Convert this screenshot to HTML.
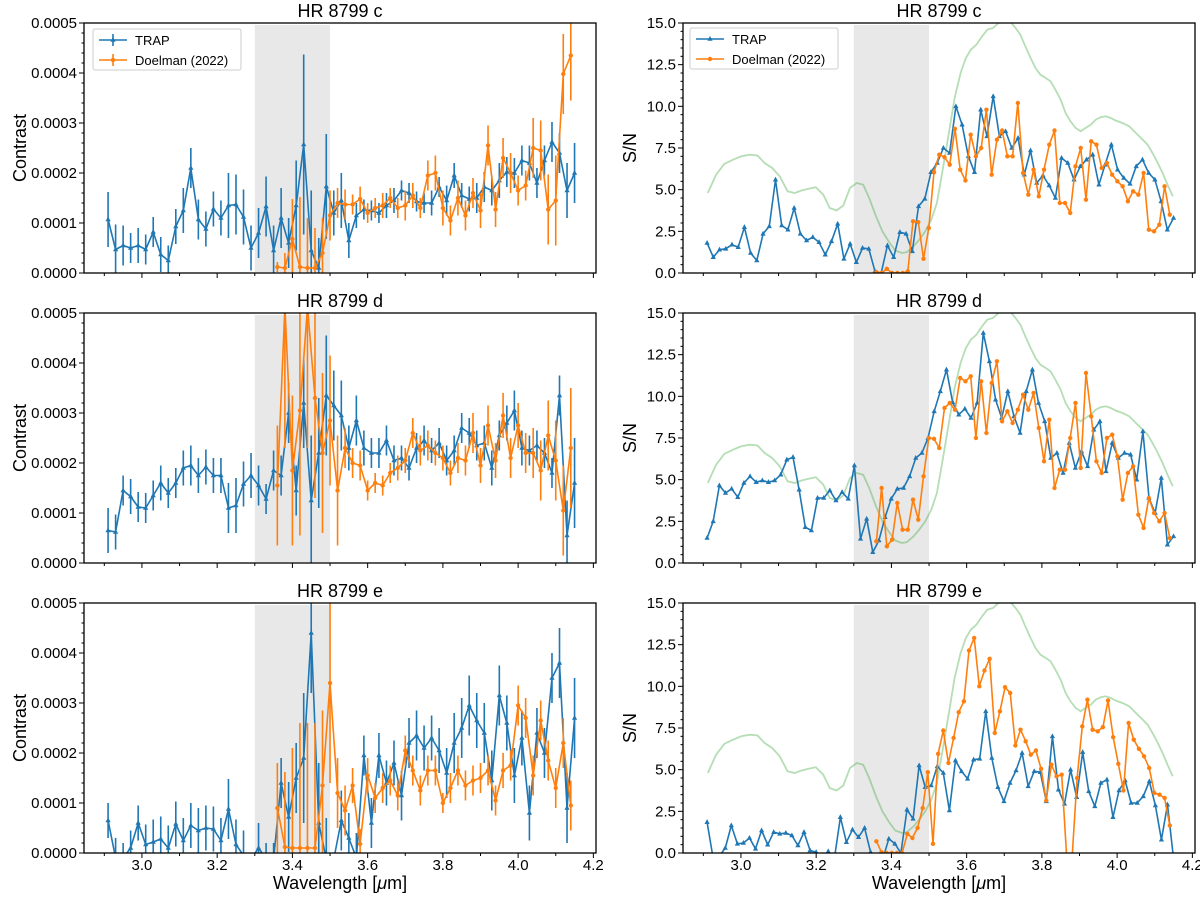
<!DOCTYPE html>
<html><head><meta charset="utf-8"><style>
html,body{margin:0;padding:0;background:#fff;width:1200px;height:900px;overflow:hidden;}
svg{display:block;}
svg text{font-family:"Liberation Sans","DejaVu Sans",sans-serif;fill:#000;}
</style></head><body>
<svg id="fig" width="1200" height="900" viewBox="0 0 1200 900" xmlns="http://www.w3.org/2000/svg" overflow="hidden"></svg>
<script>
// ---------- data ----------
const trapRange = [2.91, 4.15];
const doelRange = [3.36, 4.14];
const conTicks = ["0.0000","0.0001","0.0002","0.0003","0.0004","0.0005"];
const snTicks = ["0.0","2.5","5.0","7.5","10.0","12.5","15.0"];
const xTicks = ["3.0","3.2","3.4","3.6","3.8","4.0","4.2"];
const titles = ["HR 8799 c","HR 8799 d","HR 8799 e"];

// contrast (units of 1e-4)
const trapConC = [1.07,0.47,0.55,0.50,0.55,0.47,0.82,0.37,0.25,0.93,1.25,2.10,1.07,0.88,1.28,1.10,1.35,1.37,1.12,0.50,0.80,1.33,0.45,1.10,0.60,1.35,2.57,0.45,0.10,1.73,1.20,1.45,0.65,1.15,1.27,1.25,1.20,1.35,1.45,1.65,1.60,1.43,1.40,1.40,1.72,1.45,1.95,1.55,1.48,1.50,1.72,1.65,1.85,2.02,2.00,2.25,2.20,1.80,2.25,2.62,2.40,1.65,2.00];
const trapErrC = [0.55,0.5,0.4,0.3,0.35,0.3,0.3,0.35,0.3,0.35,0.45,0.4,0.4,0.35,0.35,0.35,0.65,0.6,0.55,0.45,0.5,0.6,0.5,0.6,0.5,0.9,1.8,1.2,0.6,1.05,0.45,0.55,0.35,0.25,0.2,0.2,0.2,0.25,0.25,0.2,0.2,0.2,0.2,0.25,0.2,0.3,0.25,0.25,0.25,0.3,0.3,0.3,0.35,0.3,0.3,0.3,0.35,0.3,0.3,0.4,0.4,0.55,0.6];
const doelConC = [0.12,0.10,0.68,0.12,0.10,0.10,0.40,1.15,1.40,1.37,1.37,1.48,1.20,1.30,1.35,1.50,1.30,1.35,1.55,1.30,1.95,2.00,1.30,1.05,1.50,1.15,1.60,1.25,2.55,1.27,2.30,2.00,1.65,1.75,2.50,2.45,1.27,1.45,3.98,4.35];
const doelErrC = [0.1,0.3,0.8,1.4,1.0,0.8,0.7,0.5,0.3,0.3,0.2,0.25,0.2,0.2,0.25,0.2,0.2,0.3,0.25,0.2,0.3,0.35,0.35,0.3,0.35,0.3,0.3,0.35,0.4,0.35,0.4,0.4,0.3,0.3,0.6,0.6,0.7,0.9,0.8,0.9];

const trapConD = [0.65,0.62,1.45,1.33,1.12,1.10,1.35,1.60,1.40,1.60,1.90,1.95,1.75,1.92,1.75,1.75,1.10,1.15,1.58,1.75,1.55,1.28,1.85,1.75,3.00,1.45,3.20,1.25,2.20,3.35,3.15,2.95,2.30,2.85,2.30,2.20,2.20,2.45,2.05,2.10,1.90,2.30,2.45,2.25,2.40,2.05,2.25,2.70,2.60,2.35,2.40,1.90,2.55,2.80,3.05,2.30,2.25,2.35,2.20,1.80,3.35,0.55,1.60];
const trapErrD = [0.45,0.35,0.3,0.35,0.3,0.3,0.3,0.35,0.3,0.3,0.35,0.4,0.35,0.35,0.35,0.35,0.5,0.55,0.45,0.45,0.4,0.3,0.4,0.4,0.6,0.5,0.9,1.3,1.1,1.2,0.7,0.7,0.45,0.5,0.35,0.3,0.3,0.3,0.3,0.25,0.25,0.3,0.3,0.25,0.3,0.3,0.3,0.3,0.3,0.3,0.35,0.35,0.3,0.35,0.4,0.35,0.3,0.3,0.3,0.3,0.4,0.7,0.9];
const doelConD = [1.55,5.8,1.85,3.05,5.8,3.30,2.20,2.85,1.45,2.30,2.00,1.95,1.45,1.60,1.55,1.80,1.90,2.05,2.60,2.25,2.35,2.20,2.10,1.80,2.10,2.05,2.60,1.95,2.75,2.05,2.95,2.10,2.75,2.20,2.20,1.85,2.55,2.05,1.05,2.30];
const doelErrD = [1.2,3.5,1.5,2.5,3.5,2.0,1.6,1.3,1.1,0.4,0.3,0.3,0.2,0.2,0.2,0.2,0.25,0.25,0.3,0.3,0.3,0.25,0.25,0.25,0.3,0.3,0.4,0.35,0.4,0.35,0.45,0.4,0.45,0.4,0.5,0.6,0.7,0.8,0.9,1.2];

const trapConE = [0.65,-0.1,-0.1,0.10,0.60,0.17,0.22,0.28,0.10,0.58,0.25,0.55,0.45,0.50,0.48,0.25,0.88,0.17,-0.05,-0.5,0.10,-0.3,-0.3,1.40,0.72,1.50,1.90,4.40,0.60,-0.5,-1.0,0.65,0.30,-0.1,1.95,0.60,1.95,1.40,1.80,1.15,2.20,2.35,2.10,2.30,2.05,1.60,2.20,2.50,2.95,2.65,2.40,1.45,3.15,2.60,1.55,2.30,0.80,2.40,2.00,3.50,3.80,0.90,2.70];
const trapErrE = [0.35,0.4,0.3,0.35,0.35,0.4,0.45,0.45,0.45,0.45,0.45,0.45,0.45,0.45,0.45,0.45,0.6,0.5,0.5,0.5,0.5,0.5,0.5,0.5,0.7,0.7,1.3,1.2,1.2,1.2,0.8,0.6,0.5,0.5,0.4,0.5,0.45,0.45,0.45,0.5,0.5,0.5,0.45,0.45,0.45,0.5,0.6,0.6,0.6,0.55,0.6,0.6,0.6,0.55,0.55,0.55,0.55,0.5,0.5,0.5,0.7,0.7,0.8];
const doelConE = [0.90,0.12,0.10,0.10,0.10,0.10,1.35,3.40,1.20,0.85,1.35,0.18,1.55,1.10,1.30,1.45,1.15,2.05,1.65,1.25,1.65,1.65,1.00,1.30,1.65,1.35,1.45,1.50,1.65,1.05,1.65,1.75,2.95,2.70,1.55,2.65,1.85,1.30,2.20,0.95];
const doelErrE = [0.9,1.5,2.0,2.5,2.5,2.5,1.5,2.0,0.7,0.5,0.35,0.3,0.35,0.3,0.3,0.3,0.3,0.3,0.3,0.3,0.3,0.3,0.2,0.3,0.3,0.3,0.3,0.3,0.3,0.3,0.35,0.3,0.4,0.4,0.4,0.4,0.4,0.4,0.5,0.5];

// S/N
const trapSnC = [1.8,0.95,1.4,1.45,1.7,1.55,2.75,1.2,0.75,2.35,2.8,5.6,2.85,2.6,3.9,2.35,1.95,2.15,1.85,1.1,1.9,2.95,0.85,1.75,0.65,1.5,1.45,0.1,0.0,1.65,0.95,2.45,2.35,1.3,4.0,4.45,6.05,6.6,7.5,7.2,10.0,8.9,7.0,6.05,9.8,8.2,10.6,8.2,8.5,7.5,8.1,5.9,7.35,5.4,5.85,5.25,4.5,6.9,6.6,5.6,6.4,6.8,7.1,5.3,6.5,7.7,6.2,5.7,5.35,6.4,6.8,6.0,5.6,4.3,2.6,3.3];
const doelSnC = [0.05,0.0,0.25,0.0,0.0,0.0,0.1,3.1,3.05,0.85,2.7,6.05,7.1,6.95,6.5,8.65,6.2,5.55,8.3,7.0,7.5,9.8,5.9,8.0,8.55,7.0,7.0,10.2,6.0,4.7,6.2,4.6,6.2,7.7,8.55,4.2,4.2,3.6,6.4,7.5,4.4,7.9,7.7,6.3,6.6,5.9,5.5,5.2,4.3,4.9,4.7,6.0,2.6,2.5,2.9,5.2,3.5];
const trapSnD = [1.5,2.5,4.65,4.2,4.45,3.95,4.8,5.2,4.85,4.95,4.85,4.95,5.3,6.2,6.35,4.4,2.15,1.95,3.9,3.9,4.35,3.75,4.25,3.85,5.85,1.45,2.65,0.65,1.35,2.75,3.85,4.45,4.5,5.2,6.3,6.6,7.5,9.1,10.3,11.6,9.65,8.9,9.25,8.7,9.6,13.8,12.1,9.8,8.7,10.3,8.8,7.8,10.3,11.6,9.6,8.5,6.3,6.6,5.4,7.2,5.7,6.7,5.8,8.0,8.5,5.5,7.2,6.3,6.6,6.5,5.0,7.9,3.9,3.0,5.1,1.1,1.6];
const doelSnD = [1.3,4.5,1.0,1.4,3.6,2.0,2.0,3.8,2.6,5.2,7.5,7.45,6.9,9.3,9.6,9.2,11.1,10.9,11.2,7.5,10.9,7.8,10.8,12.1,8.5,9.1,8.4,9.2,10.1,9.2,10.2,8.1,6.1,8.6,4.5,5.6,5.6,7.5,9.6,5.7,11.4,8.8,6.1,5.4,7.5,7.7,6.4,3.8,5.4,5.8,2.9,2.1,3.9,3.0,2.5,3.0,1.5];
const trapSnE = [1.85,-0.3,-0.2,0.3,1.65,0.55,0.6,0.9,0.25,1.35,0.5,1.25,1.15,1.2,1.05,0.45,1.25,0.15,0.05,-0.5,0.1,-0.5,2.15,0.65,1.4,0.95,1.5,0.05,-1,-1,0.85,0.55,0,2.6,2.05,5.25,3.95,4.05,5.2,4.8,2.55,5.55,4.9,4.45,5.6,5.65,8.5,5.7,3.95,3.1,4.2,4.95,6.0,4.0,4.9,4.85,3.1,7.0,3.8,2.95,5.0,3.35,6.05,3.7,2.8,4.2,4.4,2.15,3.75,4.35,3.0,3.0,3.4,4.3,2.85,0.8,2.9,-0.5];
const doelSnE = [0.7,0.05,0.0,0.0,0.0,0.0,1.15,0.9,1.5,2.7,4.85,0.55,5.95,7.35,5.4,6.9,8.45,9.1,12.15,12.9,10.0,10.95,11.65,7.2,8.5,9.95,9.6,6.45,7.4,6.7,5.9,6.15,5.05,3.15,5.3,4.6,4.7,-1,-1,4.5,7.6,9.2,7.4,7.3,7.55,9.15,6.95,5.35,3.75,7.8,6.8,6.25,5.8,5.1,3.6,3.5,3.3,1.65];

// green reference S/N curve
const greenWl = [2.912,2.934,2.956,2.979,3.001,3.023,3.044,3.063,3.083,3.103,3.124,3.143,3.161,3.180,3.199,3.219,3.236,3.254,3.272,3.290,3.308,3.325,3.341,3.359,3.376,3.394,3.410,3.428,3.441,3.459,3.474,3.490,3.506,3.521,3.537,3.552,3.568,3.584,3.598,3.611,3.626,3.641,3.655,3.670,3.685,3.700,3.715,3.730,3.743,3.756,3.770,3.783,3.796,3.810,3.823,3.836,3.850,3.863,3.876,3.890,3.903,3.916,3.930,3.943,3.956,3.970,3.983,3.996,4.014,4.032,4.050,4.068,4.081,4.094,4.108,4.121,4.134,4.148];
const greenSn = [4.8,5.9,6.55,6.8,7.0,7.1,7.05,6.6,6.3,5.8,4.9,4.8,4.95,5.05,5.15,4.7,3.9,3.75,4.05,5.1,5.4,5.3,4.5,3.4,2.5,1.85,1.35,1.2,1.25,1.6,2.0,2.5,3.2,4.2,6.3,8.3,10.5,12.0,12.9,13.4,13.7,14.2,14.6,14.7,15.0,15.2,15.1,14.7,14.3,13.6,12.9,12.3,11.9,11.7,11.5,11.0,10.4,9.6,9.1,8.7,8.5,8.7,8.9,9.2,9.35,9.4,9.3,9.15,9.0,8.8,8.4,8.0,7.7,7.2,6.6,6.0,5.3,4.6];

// ---------- drawing ----------
const NS = "http://www.w3.org/2000/svg";
const svg = document.getElementById('fig');
const XMIN = 2.846, XMAX = 4.207;
const BLUE = "#1f77b4", ORANGE = "#ff7f0e";
function mk(tag, attrs, parent) {
  const e = document.createElementNS(NS, tag);
  for (const k in attrs) e.setAttribute(k, attrs[k]);
  (parent || svg).appendChild(e);
  return e;
}
function grid(range, n) { const a = []; for (let i = 0; i < n; i++) a.push(range[0] + i * (range[1] - range[0]) / (n - 1)); return a; }

const rowsTop = [23, 313, 603];
const H = 250, W = 512;
const colsLeft = [84, 683];

function makeAxes(col, row, ymax, kind) {
  const x0 = colsLeft[col], y0 = rowsTop[row];
  const g = mk('g', {});
  
  
  const sx = v => x0 + (v - XMIN) / (XMAX - XMIN) * W;
  // clamp to just outside the axes so clipped marks never extend past the page
  const sy = v => Math.max(y0 - 6, Math.min(y0 + H + 6, y0 + H - v / ymax * H));
  const cid = 'clip' + col + row;
  const cp = mk('clipPath', { id: cid }, g);
  mk('rect', { x: x0, y: y0, width: W, height: H }, cp);
  const shade = mk('rect', { x: sx(3.3), y: y0 + 2, width: sx(3.5) - sx(3.3), height: H - 3, fill: '#e8e8e8' }, g);
  
  
  const plot = mk('g', { 'clip-path': 'url(#' + cid + ')' }, g);
  for (let i = 0; i <= 14; i++) {
    const v = 2.9 + i * 0.1;
    if (v > XMAX) break;
    const major = i % 2 === 1;
    mk('line', { x1: sx(v), x2: sx(v), y1: y0 + H, y2: y0 + H + (major ? 5 : 3), stroke: '#000', 'stroke-width': 1 }, g);
  }
  if (row === 2) {
    xTicks.forEach((t, i) => {
      const tl = mk('text', { x: sx(3.0 + 0.2 * i), y: y0 + H + 17, 'font-size': 15, 'text-anchor': 'middle' }, g);
      tl.textContent = t;
      
      
    });
    const xl = mk('text', { x: x0 + W / 2, y: y0 + H + 36, 'font-size': 18, 'text-anchor': 'middle' }, g);
    xl.innerHTML = 'Wavelength [<tspan font-style="italic">μ</tspan>m]';
    
    
  }
  const labels = kind === 'con' ? conTicks : snTicks;
  const step = ymax / (labels.length - 1);
  labels.forEach((t, i) => {
    const yy = sy(i * step);
    mk('line', { x1: x0 - 5, x2: x0, y1: yy, y2: yy, stroke: '#000' }, g);
    const tl = mk('text', { x: x0 - 7, y: yy + 5, 'font-size': 15, 'text-anchor': 'end' }, g);
    tl.textContent = t;
    
    
  });
  const nMinor = (labels.length - 1) * 5;
  for (let i = 0; i <= nMinor; i++) {
    if (i % 5 === 0) continue;
    const yy = sy(i * step / 5);
    mk('line', { x1: x0 - 2.5, x2: x0, y1: yy, y2: yy, stroke: '#000' }, g);
  }
  const yl = mk('text', { x: 0, y: 0, 'font-size': 18, 'text-anchor': 'middle', transform: 'translate(' + (kind === 'con' ? 26 : 636) + ',' + (y0 + H / 2) + ') rotate(-90)' }, g);
  yl.textContent = kind === 'con' ? 'Contrast' : 'S/N';
  
  
  const tt = mk('text', { x: x0 + W / 2, y: y0 - 6, 'font-size': 18, 'text-anchor': 'middle' }, g);
  tt.textContent = titles[row];
  
  
  const frame = mk('rect', { x: x0, y: y0, width: W, height: H, fill: 'none', stroke: '#000', 'stroke-width': 1.3 }, g);
  
  
  return { g, plot, sx, sy };
}

function series(ax, range, vals, errs, color, marker, name, scale) {
  const wl = grid(range, vals.length);
  const sg = mk('g', {}, ax.plot);
  
  
  if (errs) {
    vals.forEach((v, i) => {
      const e = mk('line', { x1: ax.sx(wl[i]), x2: ax.sx(wl[i]), y1: ax.sy((v - errs[i]) * scale), y2: ax.sy((v + errs[i]) * scale), stroke: color, 'stroke-width': 1.6 }, sg);
      
      
    });
  }
  const pts = vals.map((v, i) => ax.sx(wl[i]).toFixed(1) + ',' + ax.sy(v * scale).toFixed(1)).join(' ');
  mk('polyline', { points: pts, fill: 'none', stroke: color, 'stroke-width': 1.6, 'stroke-linejoin': 'round' }, sg);
  vals.forEach((v, i) => {
    const x = ax.sx(wl[i]), y = ax.sy(v * scale);
    let m;
    if (marker === 'tri') m = mk('polygon', { points: `${x},${y - 3} ${x - 2.6},${y + 1.8} ${x + 2.6},${y + 1.8}`, fill: color }, sg);
    else m = mk('circle', { cx: x, cy: y, r: 2.2, fill: color }, sg);
    
    
  });
}

function legend(x, y, errStyle) {
  const g = mk('g', {});
  
  
  mk('rect', { x: x, y: y, width: 148, height: 41, fill: '#fff', 'fill-opacity': 0.8, stroke: '#ccc', rx: 2 }, g);
  [['TRAP', BLUE, 'tri'], ['Doelman (2022)', ORANGE, 'dot']].forEach((e, i) => {
    const yy = y + 11 + i * 20;
    const eg = mk('g', {}, g);
    
    
    mk('line', { x1: x + 6, x2: x + 34, y1: yy, y2: yy, stroke: e[1], 'stroke-width': 1.6 }, eg);
    if (errStyle) mk('line', { x1: x + 20, x2: x + 20, y1: yy - 6, y2: yy + 6, stroke: e[1], 'stroke-width': 1.6 }, eg);
    if (e[2] === 'tri') mk('polygon', { points: `${x + 20},${yy - 3} ${x + 17.4},${yy + 1.8} ${x + 22.6},${yy + 1.8}`, fill: e[1] }, eg);
    else mk('circle', { cx: x + 20, cy: yy, r: 2.2, fill: e[1] }, eg);
    const t = mk('text', { x: x + 42, y: yy + 5, 'font-size': 13 }, eg);
    t.textContent = e[0];
  });
}

const conT = [trapConC, trapConD, trapConE], conTE = [trapErrC, trapErrD, trapErrE];
const conD = [doelConC, doelConD, doelConE], conDE = [doelErrC, doelErrD, doelErrE];
const snT = [trapSnC, trapSnD, trapSnE], snD = [doelSnC, doelSnD, doelSnE];

for (let r = 0; r < 3; r++) {
  const a = makeAxes(0, r, 5, 'con');
  series(a, trapRange, conT[r], conTE[r], BLUE, 'tri', 'trap-contrast-series', 1);
  series(a, doelRange, conD[r], conDE[r], ORANGE, 'dot', 'doelman-contrast-series', 1);
  const b = makeAxes(1, r, 15, 'sn');
  const gp = greenWl.map((w, i) => b.sx(w).toFixed(1) + ',' + b.sy(greenSn[i]).toFixed(1)).join(' ');
  const gl = mk('polyline', { points: gp, fill: 'none', stroke: '#2ca02c', 'stroke-opacity': 0.35, 'stroke-width': 1.8 }, b.plot);
  
  
  series(b, trapRange, snT[r], null, BLUE, 'tri', 'trap-snr-series', 1);
  series(b, doelRange, snD[r], null, ORANGE, 'dot', 'doelman-snr-series', 1);
}
legend(93, 29, true);
legend(690, 28, false);
</script>
</body></html>
